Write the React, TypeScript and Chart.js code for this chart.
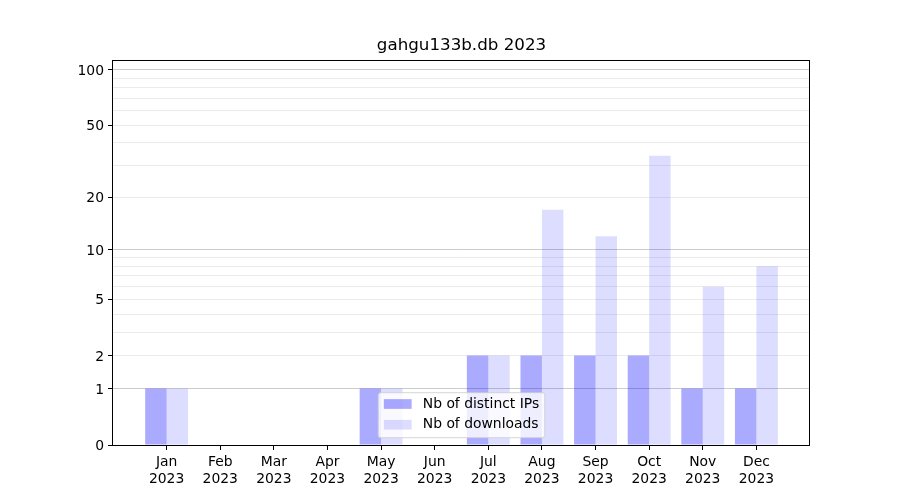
import React, { useEffect, useRef } from 'react';
import { Chart, registerables, LinearScale } from 'chart.js';

// ---- data ----
const months = ['Jan', 'Feb', 'Mar', 'Apr', 'May', 'Jun', 'Jul', 'Aug', 'Sep', 'Oct', 'Nov', 'Dec'];
const year = '2023';
const distinctIPs = [1, 0, 0, 0, 1, 0, 2, 2, 2, 2, 1, 1];
const downloads = [1, 0, 0, 0, 1, 0, 2, 17, 12, 34, 6, 8];
const yTickValues = [0, 1, 2, 3, 4, 5, 6, 7, 8, 9, 10, 20, 30, 40, 50, 60, 70, 80, 90, 100];
const yLabeledTicks = [0, 1, 2, 5, 10, 20, 50, 100];
const yMajorGrid = [1, 10, 100];
const yMax = 112.5;
const chartTitle = 'gahgu133b.db 2023';
const seriesLabels = ['Nb of distinct IPs', 'Nb of downloads'];
const seriesColors = ['rgba(0,0,255,0.333)', 'rgba(0,0,255,0.133)'];

// ---- custom log(1+x) scale ----
class Log1pScale extends LinearScale {
  static id = 'log1p';
  static defaults = {};
  _tmin = 0;
  _tmax = 1;
  configure() {
    super.configure();
    this._tmin = Math.log10(1 + this.min);
    this._tmax = Math.log10(1 + this.max);
  }
  buildTicks() {
    return yTickValues.map((v) => ({ value: v }));
  }
  getPixelForValue(value: number) {
    if (value === null || value === undefined || isNaN(value)) return NaN;
    const t = Math.log10(1 + Math.max(value, 0));
    return this.getPixelForDecimal((t - this._tmin) / (this._tmax - this._tmin));
  }
  getValueForPixel(pixel: number) {
    const d = this.getDecimalForPixel(pixel);
    return Math.pow(10, this._tmin + d * (this._tmax - this._tmin)) - 1;
  }
}

Chart.register(...registerables, Log1pScale);

const FONT = '"DejaVu Sans", "Liberation Sans", sans-serif';
const FS = 13.9;

const framePlugin = {
  id: 'frame',
  afterDraw(chart: any) {
    const { ctx, chartArea } = chart;
    ctx.save();
    ctx.strokeStyle = '#000';
    ctx.lineWidth = 1;
    const l = Math.round(chartArea.left) - 0.5;
    const r = Math.round(chartArea.right) - 0.5;
    const t = Math.round(chartArea.top) + 0.5;
    const b = Math.round(chartArea.bottom) + 0.5;
    ctx.strokeRect(l, t, r - l, b - t);
    ctx.restore();
  },
};

const legendPlugin = {
  id: 'mplLegend',
  afterDraw(chart: any) {
    const { ctx, chartArea } = chart;
    ctx.save();
    ctx.font = `${FS}px ${FONT}`;
    const items = chart.data.datasets.map((d: any) => ({ label: d.label, color: d.backgroundColor }));
    const textW = Math.max(...items.map((i: any) => ctx.measureText(i.label).width));
    const pad = 0.4 * FS;
    const handleW = 2 * FS;
    const gap = 0.8 * FS;
    const w = pad + handleW + gap + textW + pad;
    const h = 45;
    const cx = (chartArea.left + chartArea.right) / 2;
    const x0 = cx - w / 2;
    const y1 = chartArea.bottom - 7.3;
    const y0 = y1 - h;
    ctx.beginPath();
    const rad = 2.5;
    ctx.moveTo(x0 + rad, y0);
    ctx.lineTo(x0 + w - rad, y0);
    ctx.quadraticCurveTo(x0 + w, y0, x0 + w, y0 + rad);
    ctx.lineTo(x0 + w, y1 - rad);
    ctx.quadraticCurveTo(x0 + w, y1, x0 + w - rad, y1);
    ctx.lineTo(x0 + rad, y1);
    ctx.quadraticCurveTo(x0, y1, x0, y1 - rad);
    ctx.lineTo(x0, y0 + rad);
    ctx.quadraticCurveTo(x0, y0, x0 + rad, y0);
    ctx.closePath();
    ctx.fillStyle = 'rgba(255,255,255,0.8)';
    ctx.fill();
    ctx.strokeStyle = 'rgba(204,204,204,0.8)';
    ctx.lineWidth = 1;
    ctx.stroke();
    items.forEach((it: any, i: number) => {
      const cy = y0 + 11.3 + i * 20.7;
      ctx.fillStyle = it.color;
      ctx.fillRect(x0 + pad, cy - 0.35 * FS, handleW, 0.7 * FS);
      ctx.fillStyle = '#000';
      ctx.textBaseline = 'middle';
      ctx.textAlign = 'left';
      ctx.fillText(it.label, x0 + pad + handleW + gap, cy);
    });
    ctx.restore();
  },
};

export default function App() {
  const ref = useRef<HTMLCanvasElement>(null);
  useEffect(() => {
    if (!ref.current) return;
    Chart.defaults.font.family = FONT;
    Chart.defaults.color = '#000';
    const chart = new Chart(ref.current, {
      type: 'bar',
      data: {
        datasets: [
          {
            label: seriesLabels[0],
            data: distinctIPs.map((v, i) => ({ x: i, y: v })),
            backgroundColor: seriesColors[0],
            borderWidth: 0,
            categoryPercentage: 0.8,
            barPercentage: 1.0,
          },
          {
            label: seriesLabels[1],
            data: downloads.map((v, i) => ({ x: i, y: v })),
            backgroundColor: seriesColors[1],
            borderWidth: 0,
            categoryPercentage: 0.8,
            barPercentage: 1.0,
          },
        ],
      },
      options: {
        responsive: false,
        animation: false,
        events: [],
        layout: { padding: { left: 0, right: 90, top: 0, bottom: 0 } },
        plugins: {
          legend: { display: false },
          tooltip: { enabled: false },
          title: {
            display: true,
            text: chartTitle,
            fullSize: false,
            color: '#000',
            font: { size: 16.7, weight: 'normal', family: FONT, lineHeight: 1.2 },
            padding: { top: 36, bottom: 4 },
          },
        },
        scales: {
          x: {
            type: 'linear',
            min: -1,
            max: 12,
            offset: false,
            afterBuildTicks: (scale: any) => {
              scale.ticks = months.map((_, i) => ({ value: i }));
            },
            afterFit: (scale: any) => {
              scale.height = 55;
            },
            grid: {
              offset: false,
              drawOnChartArea: false,
              drawTicks: true,
              tickLength: 5,
              tickColor: '#000',
              tickWidth: 1,
            },
            border: { display: false },
            ticks: {
              autoSkip: false,
              maxRotation: 0,
              minRotation: 0,
              padding: 4,
              color: '#000',
              font: { size: FS, family: FONT, lineHeight: 1.2 },
              callback: (value: any) => [months[value as number], year],
            },
          },
          y: {
            type: 'log1p' as any,
            min: 0,
            max: yMax,
            afterFit: (scale: any) => {
              scale.width = 113;
            },
            grid: {
              color: (ctx: any) => {
                const v = ctx.tick ? ctx.tick.value : -1;
                if (v === 0) return 'rgba(0,0,0,0)';
                return yMajorGrid.includes(v) ? 'rgba(0,0,0,0.2)' : 'rgba(0,0,0,0.08)';
              },
              tickColor: (ctx: any) => {
                const v = ctx.tick ? ctx.tick.value : -1;
                return yLabeledTicks.includes(v) ? '#000' : 'rgba(0,0,0,0)';
              },
              tickLength: 5,
              lineWidth: 1,
            },
            border: { display: false },
            ticks: {
              autoSkip: false,
              padding: 4,
              labelOffset: 1.5,
              color: '#000',
              font: { size: FS, family: FONT },
              callback: (value: any) => (yLabeledTicks.includes(value) ? String(value) : ''),
            },
          },
        },
      },
      plugins: [framePlugin, legendPlugin],
    } as any);
    return () => chart.destroy();
  }, []);
  return (
    <div style={{ position: 'fixed', left: 0, top: 0, width: 900, height: 500, background: '#fff' }}>
      <canvas ref={ref} width={900} height={500} style={{ display: 'block' }} />
    </div>
  );
}
